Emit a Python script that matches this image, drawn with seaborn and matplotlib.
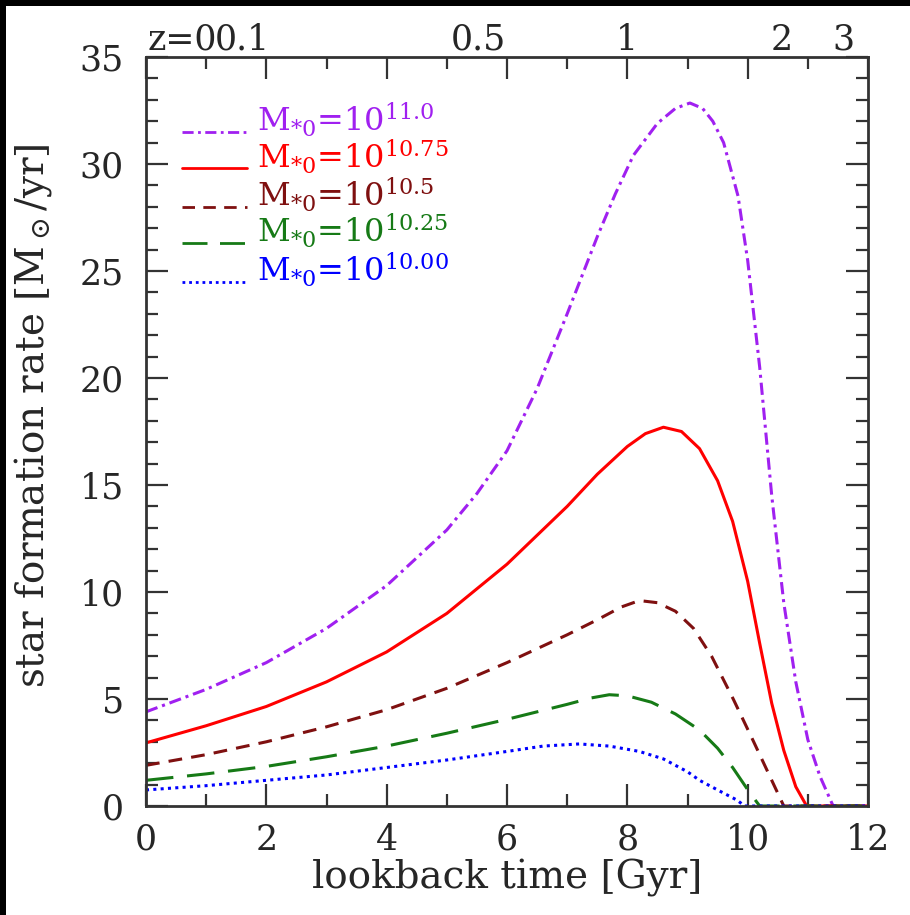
import numpy as np
import pandas as pd
import matplotlib
matplotlib.use("Agg")
import matplotlib.pyplot as plt
from matplotlib.patches import Rectangle
from matplotlib.ticker import MultipleLocator
import seaborn as sns

# ---- data ----
t_11p00 = [0, 1, 2, 3, 4, 5, 5.5, 6, 6.5, 7, 7.5, 7.8, 8.1, 8.5, 8.8, 9.04, 9.25, 9.42, 9.6, 9.84,
           10.0, 10.2, 10.4, 10.6, 10.8, 11.0, 11.2, 11.42, 12]
sfr_11p00 = [4.4, 5.45, 6.7, 8.3, 10.3, 12.9, 14.6, 16.6, 19.5, 23.0, 26.6, 28.6, 30.4, 31.9, 32.6, 32.85, 32.6, 32.0, 31.0, 28.5,
             25.5, 20.5, 14.5, 9.5, 5.8, 3.1, 1.4, 0, 0]

t_10p75 = [0, 1, 2, 3, 4, 5, 6, 7, 7.5, 8, 8.3, 8.6, 8.9, 9.2, 9.5, 9.75, 10.0, 10.2, 10.4, 10.6, 10.8, 10.98, 12]
sfr_10p75 = [2.95, 3.75, 4.65, 5.8, 7.2, 9.0, 11.3, 14.0, 15.5, 16.8, 17.4, 17.7, 17.5, 16.7, 15.2, 13.3, 10.5, 7.6, 4.8, 2.6, 0.9, 0, 0]

t_10p50 = [0, 1, 2, 3, 4, 5, 6, 7, 7.5, 7.9, 8.2, 8.5, 8.8, 9.1, 9.4, 9.76, 10.1, 10.35, 10.6, 12]
sfr_10p50 = [1.9, 2.4, 3.0, 3.7, 4.5, 5.5, 6.7, 8.0, 8.7, 9.3, 9.6, 9.5, 9.1, 8.3, 7.0, 5.0, 3.0, 1.5, 0, 0]

t_10p25 = [0, 1, 2, 3, 4, 5, 6, 7, 7.4, 7.7, 8.0, 8.4, 8.8, 9.2, 9.5, 9.75, 10.04, 10.2, 12]
sfr_10p25 = [1.2, 1.5, 1.85, 2.3, 2.8, 3.4, 4.05, 4.75, 5.05, 5.2, 5.15, 4.85, 4.3, 3.55, 2.7, 1.8, 0.6, 0, 0]

t_10p00 = [0, 1, 2, 3, 4, 5, 6, 6.6, 7.2, 7.7, 8.2, 8.6, 9.0, 9.2, 9.5, 9.82, 9.95, 12]
sfr_10p00 = [0.75, 0.95, 1.2, 1.45, 1.8, 2.15, 2.55, 2.8, 2.9, 2.8, 2.55, 2.2, 1.6, 1.2, 0.75, 0.28, 0, 0]

legend_labels = [r"M$_{*0}$=10$^{11.0}$", r"M$_{*0}$=10$^{10.75}$", r"M$_{*0}$=10$^{10.5}$",
                 r"M$_{*0}$=10$^{10.25}$", r"M$_{*0}$=10$^{10.00}$"]
z_labels = ["z=0", "0.1", "0.5", "1", "2", "3"]
z_label_pos = [0.02, 1.6, 5.52, 7.99, 10.57, 11.6]

colors = ["#A020F0", "#FF0000", "#7F1010", "#167A16", "#0000FF"]
styles = [(0, (4, 1.6, 1, 1.6)), "-", (0, (4.5, 3)), (0, (9, 4.5)), (0, (1, 1.4))]

series_t = [t_11p00, t_10p75, t_10p50, t_10p25, t_10p00]
series_v = [sfr_11p00, sfr_10p75, sfr_10p50, sfr_10p25, sfr_10p00]

# ---- style ----
sns.set_theme(style="ticks")
plt.rcParams["font.family"] = ["DejaVu Serif"]
plt.rcParams["mathtext.fontset"] = "dejavuserif"

fig = plt.figure(figsize=(9.1, 9.15), dpi=100)
fig.patch.set_facecolor("black")
fig.add_artist(Rectangle((6 / 910, 0), 1, 1 - 6 / 915, transform=fig.transFigure,
                         facecolor="white", edgecolor="none", zorder=-10))
ax = fig.add_axes([146 / 910, 1 - 806 / 915, (868 - 146) / 910, (806 - 57) / 915])
ax.set_facecolor("white")

for t, v, c, ls in zip(series_t, series_v, colors, styles):
    df = pd.DataFrame({"t": t, "sfr": v})
    sns.lineplot(data=df, x="t", y="sfr", ax=ax, color=c, linestyle=ls, lw=2.2,
                 sort=False, legend=False)

ax.set_xlim(0, 12)
ax.set_ylim(0, 35)
ax.xaxis.set_major_locator(MultipleLocator(2))
ax.xaxis.set_minor_locator(MultipleLocator(1))
ax.yaxis.set_major_locator(MultipleLocator(5))
ax.yaxis.set_minor_locator(MultipleLocator(1))
ax.tick_params(which="both", direction="in", top=True, right=True, color="#333333", width=1.6)
ax.tick_params(which="major", length=16, labelsize=25)
ax.tick_params(axis="x", which="major", pad=12)
ax.tick_params(axis="y", which="major", pad=16)
ax.tick_params(which="minor", length=8.5)
for s in ax.spines.values():
    s.set_linewidth(2)
    s.set_color("#333333")

ax.set_xlabel("lookback time [Gyr]", fontsize=28, labelpad=2)
ax.set_ylabel(r"star formation rate [M$_\odot$/yr]", fontsize=28)
ax.yaxis.set_label_coords(-0.128, 0.521)

# top redshift labels
for lab, pos in zip(z_labels, z_label_pos):
    ax.text(pos, 1.0, lab, transform=ax.get_xaxis_transform(), ha="left" if lab == "z=0" else "center",
            va="bottom", fontsize=25, clip_on=False)

# hand-made legend
leg_y = [31.5, 29.8, 28.0, 26.3, 24.5]
for yy, c, ls, lab in zip(leg_y, colors, styles, legend_labels):
    ax.plot([0.6, 1.68], [yy, yy], color=c, linestyle=ls, lw=2.0)
    ax.text(1.84, yy, lab, color=c, fontsize=23, va="baseline", ha="left")

fig.savefig("out.png", dpi=100, facecolor=fig.get_facecolor())
